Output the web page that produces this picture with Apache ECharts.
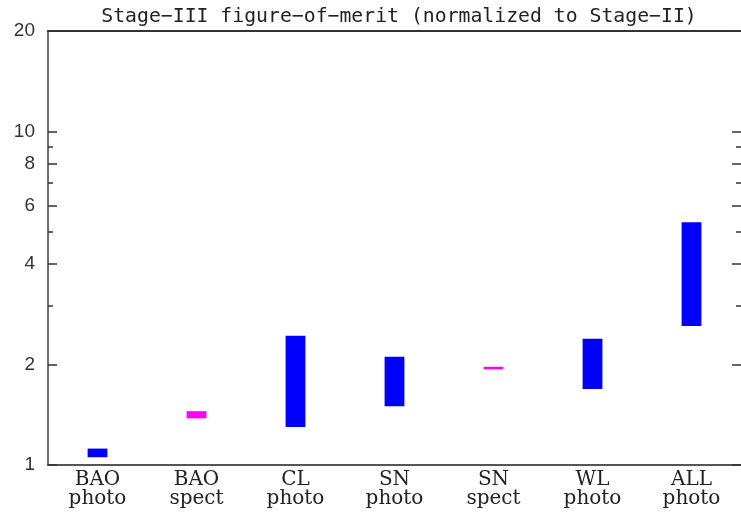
<!DOCTYPE html>
<html>
<head>
<meta charset="utf-8">
<script src="https://cdn.jsdelivr.net/npm/echarts@6/dist/echarts.min.js"></script>
<style>
html,body{margin:0;padding:0;background:#fff;}
#chart{width:741px;height:514px;}
</style>
</head>
<body>
<div id="chart"></div>
<script>
// ---- data ----
var categories = ['BAO\nphoto', 'BAO\nspect', 'CL\nphoto', 'SN\nphoto', 'SN\nspect', 'WL\nphoto', 'ALL\nphoto'];
var lowValues  = [1.055, 1.38, 1.30, 1.50, 1.935, 1.69, 2.61];
var highValues = [1.12, 1.45, 2.44, 2.11, 1.97, 2.39, 5.34];
var majorTicks = [1, 2, 4, 6, 8, 10, 20];
var minorTicks = [3, 5, 7, 9];
var titleText = 'Stage\u2212III figure\u2212of\u2212merit (normalized to Stage\u2212II)';

var seriesData = categories.map(function (c, i) { return [i, lowValues[i], highValues[i]]; });

var chart = echarts.init(document.getElementById('chart'), null, {renderer: 'canvas'});

function yAx(pos, ticks, len, labels) {
  return {
    type: 'log', logBase: 10, min: 1, max: 20, position: pos,
    axisLine: {show: pos === 'left', lineStyle: {color: '#6e6e6e', width: 2}},
    splitLine: {show: false},
    minorTick: {show: false},
    axisTick: {show: true, inside: true, length: len, customValues: ticks,
               lineStyle: {color: '#333', width: 1.5}},
    axisLabel: labels ? {show: true, customValues: ticks, color: '#333',
               fontFamily: 'Liberation Sans', fontSize: 19, margin: 13} : {show: false}
  };
}

chart.setOption({
  animation: false,
  backgroundColor: '#fff',
  title: {
    text: titleText, left: 394, textAlign: 'center', top: 2,
    textStyle: {fontFamily: 'DejaVu Sans Mono', fontSize: 19.8, fontWeight: 'normal', color: '#222'}
  },
  grid: {left: 48, right: -1, top: 31, bottom: 49, containLabel: false},
  xAxis: [{
    type: 'category', data: categories, position: 'bottom',
    axisLine: {show: true, lineStyle: {color: '#555', width: 2}},
    axisTick: {show: false},
    axisLabel: {color: '#222', fontFamily: 'DejaVu Serif', fontSize: 20, lineHeight: 19.5, margin: 5, interval: 0}
  }, {
    type: 'category', data: categories, position: 'top',
    axisLine: {show: true, lineStyle: {color: '#333', width: 2}},
    axisTick: {show: false}, axisLabel: {show: false}
  }],
  yAxis: [
    yAx('left', majorTicks, 9, true),
    yAx('left', minorTicks, 5, false),
    yAx('right', majorTicks, 9, false),
    yAx('right', minorTicks, 5, false)
  ],
  series: [{
    type: 'custom',
    xAxisIndex: 0, yAxisIndex: 0,
    data: seriesData,
    encode: {x: 0, y: [1, 2]},
    renderItem: function (params, api) {
      var i = api.value(0);
      var p0 = api.coord([i, api.value(1)]);
      var p1 = api.coord([i, api.value(2)]);
      var bw = api.size([1, 1])[0] * 0.2;
      var isSpect = categories[i].indexOf('spect') >= 0;
      var h = Math.max(p0[1] - p1[1], 2.5);
      return {
        type: 'rect',
        shape: {x: p0[0] - bw / 2, y: (p0[1] + p1[1]) / 2 - h / 2, width: bw, height: h},
        style: {fill: isSpect ? '#ff00ff' : '#0000ff'}
      };
    }
  }]
});
</script>
</body>
</html>
